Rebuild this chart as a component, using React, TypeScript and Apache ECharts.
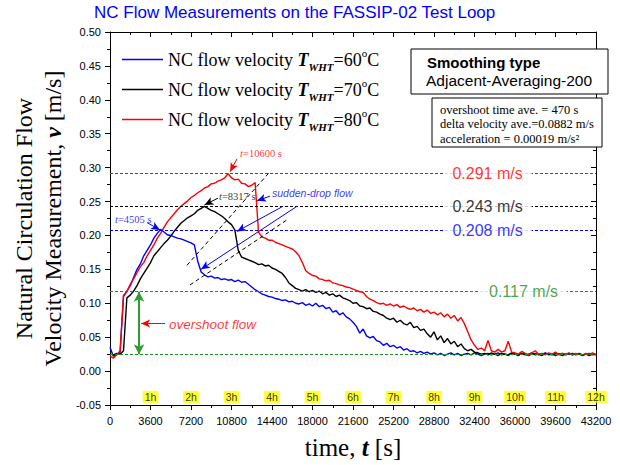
import React, { useEffect, useRef } from 'react';
import * as echarts from 'echarts';

// sampling step of the smoothed records (s)
const T_STEP = 300;

// NC flow velocity, T_WHT = 60 °C  [m/s]
const vel60 = [
  0.035, 0.022, 0.024, 0.028, 0.110, 0.118, 0.126, 0.138, 0.150, 0.158,
  0.170, 0.178, 0.186, 0.196, 0.203, 0.209, 0.205, 0.201, 0.200, 0.198,
  0.196, 0.195, 0.193, 0.191, 0.189, 0.186, 0.162, 0.146, 0.142, 0.139,
  0.140, 0.137, 0.138, 0.135, 0.136, 0.134, 0.135, 0.132, 0.134, 0.131,
  0.132, 0.128, 0.124, 0.120, 0.117, 0.114, 0.112, 0.110, 0.109, 0.107,
  0.106, 0.104, 0.105, 0.102, 0.103, 0.100, 0.099, 0.101, 0.097, 0.099,
  0.096, 0.100, 0.095, 0.097, 0.092, 0.094, 0.087, 0.089, 0.083, 0.086,
  0.080, 0.077, 0.072, 0.066, 0.056, 0.062, 0.052, 0.049, 0.051, 0.045,
  0.043, 0.038, 0.041, 0.036, 0.038, 0.034, 0.036, 0.031, 0.033, 0.029,
  0.030, 0.027, 0.029, 0.026, 0.028, 0.025, 0.027, 0.024, 0.026, 0.023,
  0.025, 0.027, 0.024, 0.026, 0.023, 0.025, 0.026, 0.024, 0.027, 0.025,
  0.023, 0.025, 0.026, 0.024, 0.025, 0.027, 0.024, 0.025, 0.023, 0.026,
  0.025, 0.024, 0.026, 0.025, 0.023, 0.025, 0.026, 0.024, 0.025, 0.027,
  0.024, 0.025, 0.023, 0.025, 0.026, 0.024, 0.025, 0.026, 0.024, 0.025,
  0.023, 0.025, 0.026, 0.024, 0.025,
];

// NC flow velocity, T_WHT = 70 °C  [m/s]
const vel70 = [
  0.025, 0.024, 0.026, 0.025, 0.030, 0.108, 0.112, 0.118, 0.126, 0.136,
  0.144, 0.152, 0.160, 0.170, 0.176, 0.182, 0.188, 0.193, 0.199, 0.206,
  0.212, 0.218, 0.222, 0.226, 0.229, 0.232, 0.237, 0.240, 0.243, 0.240,
  0.237, 0.235, 0.232, 0.229, 0.225, 0.220, 0.216, 0.208, 0.178, 0.168,
  0.166, 0.164, 0.162, 0.160, 0.157, 0.158, 0.155, 0.156, 0.152, 0.150,
  0.147, 0.144, 0.138, 0.130, 0.126, 0.122, 0.120, 0.118, 0.120, 0.117,
  0.119, 0.116, 0.118, 0.114, 0.116, 0.112, 0.114, 0.110, 0.112, 0.108,
  0.106, 0.104, 0.100, 0.101, 0.096, 0.095, 0.092, 0.093, 0.088, 0.087,
  0.084, 0.082, 0.078, 0.076, 0.078, 0.072, 0.075, 0.070, 0.068, 0.072,
  0.064, 0.066, 0.060, 0.062, 0.055, 0.050, 0.058, 0.046, 0.052, 0.042,
  0.048, 0.040, 0.044, 0.036, 0.040, 0.033, 0.030, 0.032, 0.028, 0.027,
  0.025, 0.026, 0.024, 0.027, 0.025, 0.023, 0.026, 0.025, 0.024, 0.027,
  0.025, 0.023, 0.026, 0.024, 0.025, 0.027, 0.024, 0.025, 0.023, 0.026,
  0.025, 0.024, 0.026, 0.025, 0.023, 0.025, 0.026, 0.024, 0.025, 0.026,
  0.024, 0.025, 0.023, 0.025, 0.024,
];

// NC flow velocity, T_WHT = 80 °C  [m/s]
const vel80 = [
  0.022, 0.019, 0.024, 0.030, 0.112, 0.117, 0.128, 0.136, 0.145, 0.154,
  0.160, 0.170, 0.178, 0.186, 0.196, 0.203, 0.212, 0.220, 0.226, 0.232,
  0.238, 0.243, 0.247, 0.251, 0.256, 0.259, 0.263, 0.266, 0.270, 0.272,
  0.276, 0.277, 0.280, 0.282, 0.285, 0.291, 0.285, 0.282, 0.283, 0.277,
  0.276, 0.272, 0.274, 0.278, 0.205, 0.198, 0.196, 0.193, 0.193, 0.190,
  0.188, 0.186, 0.184, 0.182, 0.180, 0.176, 0.170, 0.160, 0.148, 0.144,
  0.141, 0.140, 0.136, 0.135, 0.133, 0.134, 0.130, 0.129, 0.127, 0.126,
  0.124, 0.123, 0.121, 0.119, 0.117, 0.116, 0.110, 0.106, 0.104, 0.101,
  0.099, 0.100, 0.097, 0.099, 0.096, 0.098, 0.094, 0.096, 0.093, 0.091,
  0.093, 0.089, 0.091, 0.087, 0.090, 0.085, 0.087, 0.083, 0.086, 0.080,
  0.084, 0.078, 0.082, 0.074, 0.079, 0.070, 0.058, 0.046, 0.038, 0.032,
  0.034, 0.030, 0.045, 0.030, 0.028, 0.032, 0.028, 0.030, 0.044, 0.028,
  0.027, 0.025, 0.029, 0.026, 0.024, 0.027, 0.030, 0.025, 0.026, 0.024,
  0.027, 0.025, 0.028, 0.024, 0.026, 0.025, 0.027, 0.024, 0.026, 0.025,
  0.024, 0.026, 0.025, 0.027, 0.024,
];

const temps = [60, 70, 80];
const seriesColors = ['#0000ff', '#000000', '#ff0000'];

// average peak velocities and the overshoot level
const refLevels = [0.291, 0.243, 0.208, 0.117];
const refColors = ['#ff0000', '#000000', '#0000ff', '#1e8c1e'];
const refLabelTimes = [33560, 33560, 33560, 36760];
const baseLevel = 0.025;

// peak times (s) for 60, 70, 80 °C
const peakTimes = [4505, 8317, 10600];
const hours = [1, 2, 3, 4, 5, 6, 7, 8, 9, 10, 11, 12];

const X_MAX = 43200;
const SERIF = "'Liberation Serif', 'Times New Roman', serif";
const SANS = "'Liberation Sans', Arial, sans-serif";
const GREEN_ARROW = '#2e9e2e';

const toPairs = (vals: number[]) => vals.map((v, i) => [i * T_STEP, v]);

function seg(a: number[], b: number[], color: string, opts: any = {}) {
  return [
    { coord: a, symbol: opts.startArrow ? 'arrow' : 'none', symbolSize: opts.size || [6, 9], lineStyle: { color, width: opts.width || 1, type: opts.type || 'solid' }, itemStyle: { color } },
    { coord: b, symbol: opts.endArrow ? 'arrow' : 'none', symbolSize: opts.size || [6, 9], itemStyle: { color } },
  ];
}

function hLine(v: number, color: string) {
  return [
    { coord: [0, v], symbol: 'none', lineStyle: { color, width: 1, type: [3, 2] }, itemStyle: { color } },
    { coord: [X_MAX, v], symbol: 'none', itemStyle: { color } },
  ];
}

export default function App() {
  const ref = useRef<HTMLDivElement>(null);

  useEffect(() => {
    if (!ref.current) return;
    const chart = echarts.init(ref.current, undefined, { renderer: 'svg' });

    const seriesData = [vel60, vel70, vel80];
    const refLinesBySeries: any[][] = [
      [hLine(refLevels[2], refColors[2])],
      [hLine(refLevels[1], refColors[1]), hLine(refLevels[3], refColors[3]), hLine(baseLevel, refColors[3])],
      [hLine(refLevels[0], refColors[0])],
    ];

    const lineSeries = seriesData.map((vals, k) => ({
      name: `T_WHT=${temps[k]}°C`,
      type: 'line',
      data: toPairs(vals),
      symbol: 'none',
      showSymbol: false,
      z: 3,
      lineStyle: { color: seriesColors[k], width: 1.4 },
      itemStyle: { color: seriesColors[k] },
      markLine: {
        silent: true,
        symbol: 'none',
        label: { show: false },
        lineStyle: { color: k === 1 ? '#000000' : seriesColors[k], width: 1, type: [3, 2] },
        data: refLinesBySeries[k],
      },
    }));

    const refLabelItems = refLevels.map((v, k) => ({
      value: [refLabelTimes[k], v],
      label: {
        show: true,
        position: 'inside',
        formatter: `${v.toFixed(3)} m/s`,
        color: refColors[k],
        fontFamily: SANS,
        fontSize: 16,
        backgroundColor: '#ffffff',
        padding: [1, 9, 0, 9],
      },
    }));

    const hourItems = hours.map((h) => ({
      value: [h * 3600, -0.038],
      label: {
        show: true,
        position: 'inside',
        formatter: `${h}h`,
        color: '#000',
        fontFamily: SANS,
        fontSize: 10.5,
        backgroundColor: '#ffff00',
        padding: [1, 2, 0, 2],
      },
    }));

    const peakTextPos = [[445, 0.224], [9690, 0.257], [11560, 0.321]];
    const peakItems = peakTimes.map((p, k) => ({
      value: peakTextPos[k],
      label: {
        show: true,
        position: 'right',
        distance: 0,
        formatter: `{i|t}{n|=${p} s}`,
        color: seriesColors[k],
        rich: {
          i: { fontFamily: SERIF, fontSize: 10.5, fontStyle: 'italic', color: seriesColors[k] },
          n: { fontFamily: SERIF, fontSize: 10.5, color: seriesColors[k] },
        },
      },
    }));

    const noteItems = [
      {
        value: [14400, 0.262],
        label: {
          show: true, position: 'right', distance: 0, formatter: 'sudden-drop flow',
          color: '#0000ff', fontFamily: SANS, fontStyle: 'italic', fontSize: 10.5,
        },
      },
      {
        value: [5245, 0.0685],
        label: {
          show: true, position: 'right', distance: 0, formatter: 'overshoot flow',
          color: '#ff0000', fontFamily: SANS, fontStyle: 'italic', fontSize: 13.5,
        },
      },
    ];

    const annotationLines = [
      // peak pointers
      seg([11290, 0.313], [10670, 0.294], '#ff0000', { endArrow: true }),
      seg([9600, 0.255], [8400, 0.245], '#000000', { endArrow: true }),
      seg([3290, 0.219], [4445, 0.208], '#0000ff', { endArrow: true }),
      // sudden-drop pointers
      seg([14220, 0.258], [13070, 0.251], '#0000ff', { endArrow: true }),
      seg([15380, 0.243], [11290, 0.206], '#0000ff', { endArrow: true }),
      seg([16620, 0.243], [8090, 0.150], '#0000ff', { endArrow: true }),
      // slanted guide lines
      seg([6840, 0.156], [14220, 0.294], '#000000', { type: [4, 3] }),
      seg([7110, 0.127], [15730, 0.223], '#000000', { type: [4, 3] }),
      // overshoot
      seg([4890, 0.070], [2760, 0.070], '#ff0000', { endArrow: true }),
      seg([2580, refLevels[3]], [2580, baseLevel], GREEN_ARROW, { startArrow: true, endArrow: true, width: 2, size: [8, 10] }),
    ];

    const labelSeries = {
      name: 'annotations',
      type: 'scatter',
      symbolSize: 0,
      silent: true,
      z: 10,
      clip: false,
      itemStyle: { color: 'rgba(0,0,0,0)' },
      data: [...refLabelItems, ...hourItems, ...peakItems, ...noteItems],
      markLine: {
        silent: true,
        symbol: 'none',
        label: { show: false },
        data: annotationLines,
      },
    };

    const axisCommonX = {
      type: 'value',
      min: 0,
      max: X_MAX,
      interval: 3600,
      splitLine: { show: false },
    };
    const axisCommonY = {
      type: 'value',
      min: -0.05,
      max: 0.5,
      interval: 0.05,
      splitLine: { show: false },
    };

    const legendRich = {
      a: { fontFamily: SERIF, fontSize: 18, color: '#000', lineHeight: 22 },
      b: { fontFamily: SERIF, fontSize: 18, fontWeight: 'bold', fontStyle: 'italic', color: '#000', lineHeight: 22 },
      s: { fontFamily: SERIF, fontSize: 11, fontWeight: 'bold', fontStyle: 'italic', color: '#000', lineHeight: 12, padding: [14, 0, 0, 0] },
      o: { fontFamily: SERIF, fontSize: 11, color: '#000', lineHeight: 12, padding: [0, 0, 14, 0] },
    };

    const option: any = {
      animation: false,
      backgroundColor: '#ffffff',
      grid: { left: 110, right: 24, top: 32, bottom: 56 },
      legend: {
        data: lineSeries.map((s) => s.name),
        orient: 'vertical',
        left: 117,
        top: 42,
        icon: 'rect',
        itemWidth: 41,
        itemHeight: 1.5,
        itemGap: 5,
        selectedMode: false,
        formatter: (name: string) => {
          const m = name.match(/=(\d+)/);
          const t = m ? m[1] : '';
          return `{a|NC flow velocity }{b|T}{s|WHT}{a|=${t}}{o|o}{a|C}`;
        },
        textStyle: { rich: legendRich },
      },
      xAxis: [
        {
          ...axisCommonX,
          position: 'bottom',
          axisLine: { show: true, onZero: false, lineStyle: { color: '#000', width: 1 } },
          axisTick: { show: true, inside: false, length: 5, lineStyle: { color: '#000' } },
          minorTick: { show: true, splitNumber: 2, length: 3, lineStyle: { color: '#000' } },
          axisLabel: { color: '#000', fontFamily: SANS, fontSize: 11, margin: 10, formatter: (v: number) => String(v) },
          name: '{a|time, }{b|t}{a| [s]}',
          nameLocation: 'middle',
          nameGap: 30,
          nameTextStyle: {
            rich: {
              a: { fontFamily: SERIF, fontSize: 25, color: '#000' },
              b: { fontFamily: SERIF, fontSize: 25, fontWeight: 'bold', fontStyle: 'italic', color: '#000' },
            },
          },
        },
        {
          ...axisCommonX,
          position: 'top',
          axisLine: { show: true, onZero: false, lineStyle: { color: '#000', width: 1 } },
          axisTick: { show: true, inside: true, length: 5, lineStyle: { color: '#000' } },
          minorTick: { show: true, splitNumber: 2, length: 3, lineStyle: { color: '#000' } },
          axisLabel: { show: false },
        },
      ],
      yAxis: [
        {
          ...axisCommonY,
          position: 'left',
          axisLine: { show: true, onZero: false, lineStyle: { color: '#000', width: 1 } },
          axisTick: { show: true, inside: false, length: 5, lineStyle: { color: '#000' } },
          minorTick: { show: true, splitNumber: 2, length: 3, lineStyle: { color: '#000' } },
          axisLabel: { color: '#000', fontFamily: SANS, fontSize: 11, margin: 9, formatter: (v: number) => v.toFixed(2) },
          name: '{a|Natural Circulation Flow}\n{a|Velocity Measurement, }{b|v}{a| [m/s]}',
          nameLocation: 'middle',
          nameGap: 38,
          nameTextStyle: {
            align: 'center',
            rich: {
              a: { fontFamily: SERIF, fontSize: 24, color: '#000', lineHeight: 29 },
              b: { fontFamily: SERIF, fontSize: 24, fontWeight: 'bold', fontStyle: 'italic', color: '#000', lineHeight: 29 },
            },
          },
        },
        {
          ...axisCommonY,
          position: 'right',
          axisLine: { show: true, onZero: false, lineStyle: { color: '#000', width: 1 } },
          axisTick: { show: true, inside: true, length: 5, lineStyle: { color: '#000' } },
          minorTick: { show: true, splitNumber: 2, length: 3, lineStyle: { color: '#000' } },
          axisLabel: { show: false },
        },
      ],
      graphic: [
        {
          type: 'text',
          x: 94,
          y: 4,
          style: {
            text: 'NC Flow Measurements on the FASSIP-02 Test Loop',
            fill: '#0000ff',
            fontFamily: SANS,
            fontSize: 17,
            verticalAlign: 'top',
          },
          z: 100,
        },
        {
          type: 'group',
          z: 100,
          children: [
            { type: 'rect', shape: { x: 411, y: 49, width: 197, height: 45 }, style: { fill: '#fff', stroke: '#000', lineWidth: 1 }, z: 100 },
            { type: 'text', x: 427, y: 55, style: { text: 'Smoothing type', fill: '#000', font: `bold 15px ${SANS}`, verticalAlign: 'top' }, z: 101 },
            { type: 'text', x: 426, y: 72, style: { text: 'Adjacent-Averaging-200', fill: '#000', font: `15.5px ${SANS}`, verticalAlign: 'top' }, z: 101 },
            { type: 'rect', shape: { x: 432, y: 98, width: 170, height: 49 }, style: { fill: '#fff', stroke: '#000', lineWidth: 1 }, z: 100 },
            { type: 'text', x: 440, y: 103, style: { text: 'overshoot time ave. = 470 s', fill: '#000', font: `12.5px ${SERIF}`, verticalAlign: 'top' }, z: 101 },
            { type: 'text', x: 440, y: 117.5, style: { text: 'delta velocity ave.=0.0882 m/s', fill: '#000', font: `12.5px ${SERIF}`, verticalAlign: 'top' }, z: 101 },
            { type: 'text', x: 440, y: 132, style: { text: 'acceleration = 0.00019 m/s²', fill: '#000', font: `12.5px ${SERIF}`, verticalAlign: 'top' }, z: 101 },
          ],
        },
      ],
      series: [...lineSeries, labelSeries],
    };

    chart.setOption(option);
    return () => chart.dispose();
  }, []);

  return (
    <div
      ref={ref}
      style={{ position: 'fixed', left: 0, top: 0, width: 620, height: 465, background: '#fff' }}
    />
  );
}
